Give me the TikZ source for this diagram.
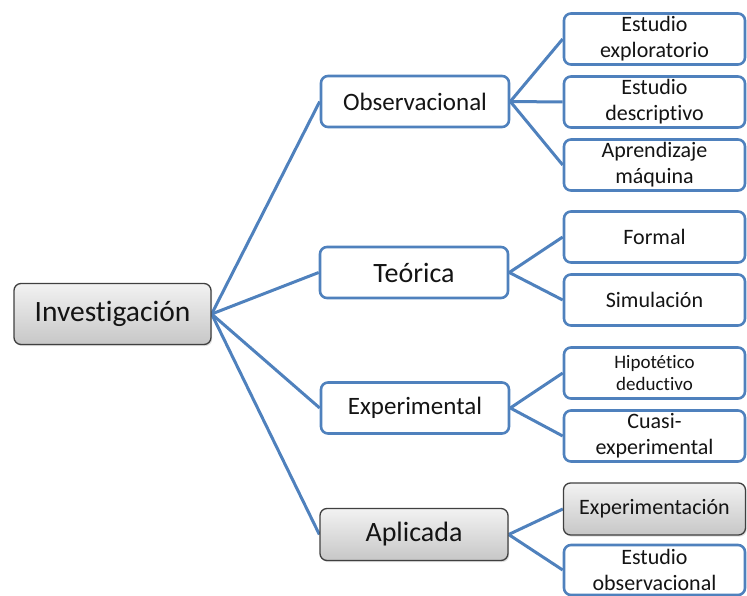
\documentclass[tikz,border=0pt]{standalone}
\usepackage{fontspec}
\setmainfont{Carlito}[Ligatures=NoCommon]
\usetikzlibrary{backgrounds,shadows}

\definecolor{accent}{RGB}{79,129,189}
\definecolor{frame}{RGB}{64,64,64}
\definecolor{ink}{RGB}{20,20,20}

\tikzset{
  bluebox/.style={draw=accent, line width=2.6pt, fill=white, rounded corners=7pt,
    inner sep=0pt, align=center, text=ink},
  graybox/.style={draw=frame, line width=1.3pt, rounded corners=7pt,
    top color=white!95!black, bottom color=black!22, inner sep=0pt, align=center,
    text=ink, drop shadow={opacity=0.25, shadow xshift=1.2pt, shadow yshift=-1.6pt}},
  midbox/.style={minimum width=188pt, minimum height=51pt},
  leafbox/.style={minimum width=181pt, minimum height=51pt, font=\fontsize{22}{27}\selectfont},
  link/.style={draw=accent, line width=3pt},
}

\begin{document}
\begin{tikzpicture}[x=1pt,y=1pt]
\useasboundingbox (0,0) rectangle (747,-596);

% root
\node[graybox, minimum width=197pt, minimum height=61pt, font=\fontsize{29.5}{34}\selectfont]
  (inv) at (112.5,-314) {Investigación};

% second level
\node[bluebox, midbox, font=\fontsize{25}{30}\selectfont] (obs) at (415,-101.5) {Observacional};
\node[bluebox, midbox, font=\fontsize{28}{33}\selectfont] (teo) at (414,-272.5) {Teórica};
\node[bluebox, midbox, font=\fontsize{25}{30}\selectfont] (exp) at (415,-408) {Experimental};
\node[graybox, minimum width=188pt, minimum height=52pt, font=\fontsize{28}{33}\selectfont]
  (apl) at (414,-534.5) {Aplicada};

% leaves
\node[bluebox, leafbox] (ee) at (654.5,-39) {Estudio\\[-1pt]exploratorio};
\node[bluebox, leafbox] (ed) at (654.5,-102) {Estudio\\[-1pt]descriptivo};
\node[bluebox, leafbox] (am) at (654.5,-165) {Aprendizaje\\[-1pt]máquina};
\node[bluebox, leafbox] (fo) at (654.5,-237) {Formal};
\node[bluebox, leafbox] (si) at (654.5,-300) {Simulación};
\node[bluebox, leafbox, font=\fontsize{19}{22}\selectfont] (hd) at (654.5,-373) {Hipotético\\deductivo};
\node[bluebox, leafbox] (ce) at (654.5,-436) {Cuasi-\\[-1pt]experimental};
\node[graybox, minimum width=182pt, minimum height=52pt, font=\fontsize{22}{27}\selectfont]
  (ex) at (654.5,-509) {Experimentación};
\node[bluebox, leafbox, minimum height=50pt] (eo) at (654.5,-570) {Estudio\\[-1pt]observacional};

% connectors behind the boxes
\begin{pgfonlayer}{background}
  \foreach \c in {obs,teo,exp,apl} \draw[link] (inv.east) -- (\c.west);
  \foreach \c in {ee,ed,am} \draw[link] (obs.east) -- (\c.west);
  \foreach \c in {fo,si} \draw[link] (teo.east) -- (\c.west);
  \foreach \c in {hd,ce} \draw[link] (exp.east) -- (\c.west);
  \foreach \c in {ex,eo} \draw[link] (apl.east) -- (\c.west);
\end{pgfonlayer}
\end{tikzpicture}
\end{document}
